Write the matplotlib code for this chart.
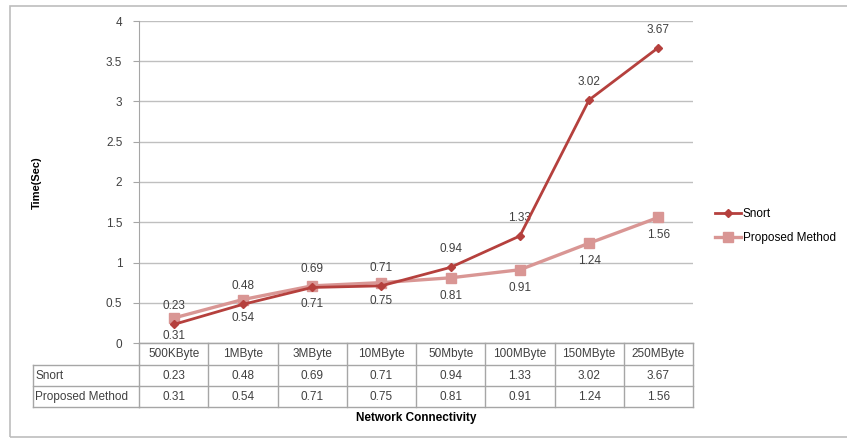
import matplotlib.pyplot as plt
from matplotlib.lines import Line2D
from matplotlib.patches import Rectangle
from matplotlib.transforms import blended_transform_factory

categories = ['500KByte', '1MByte', '3MByte', '10MByte', '50Mbyte', '100MByte', '150MByte', '250MByte']
snort = [0.23, 0.48, 0.69, 0.71, 0.94, 1.33, 3.02, 3.67]
proposed = [0.31, 0.54, 0.71, 0.75, 0.81, 0.91, 1.24, 1.56]
series_names = ['Snort', 'Proposed Method']

W, H = 847, 440
plt.rcParams['font.family'] = ['Liberation Sans', 'DejaVu Sans']
fig = plt.figure(figsize=(W / 100, H / 100), dpi=100)

def fx(px):
    return px / W

def fy(py):
    return 1 - py / H

# outer chart frame
fig.add_artist(Rectangle((fx(10), fy(437)), fx(860), fy(6) - fy(437), transform=fig.transFigure,
                         fill=False, ec='#BDBDBD', lw=1.2))

ax = fig.add_axes([fx(139), fy(343), fx(693 - 139), fy(21) - fy(343)])
c_snort = '#B5403D'
c_prop = '#D99694'
txt_c = '#404040'
fs = 8.5
x = list(range(len(categories)))
ax.plot(x, proposed, color=c_prop, lw=2.4, marker='s', ms=6.5, zorder=3)
ax.plot(x, snort, color=c_snort, lw=2.0, marker='D', ms=4.5, zorder=4)

for i in x:
    ax.annotate(f'{snort[i]:.2f}', (i, snort[i]), xytext=(0, 13), textcoords='offset points',
                ha='center', va='center', fontsize=8.5, color=txt_c)
    ax.annotate(f'{proposed[i]:.2f}', (i, proposed[i]), xytext=(0, -13), textcoords='offset points',
                ha='center', va='center', fontsize=8.5, color=txt_c)

ax.set_xlim(-0.5, len(categories) - 0.5)
ax.set_ylim(0, 4)
ax.set_yticks([0, 0.5, 1, 1.5, 2, 2.5, 3, 3.5, 4])
ax.set_yticklabels(['0', '0.5', '1', '1.5', '2', '2.5', '3', '3.5', '4'])
ax.set_xticks([])
ax.grid(axis='y', color='#BFBFBF', lw=1.0)
ax.set_axisbelow(True)
for s in ['top', 'right']:
    ax.spines[s].set_visible(False)
for s in ['left', 'bottom']:
    ax.spines[s].set_color('#A6A6A6')
ax.tick_params(axis='y', length=4, color='#A6A6A6', labelsize=fs, labelcolor=txt_c, pad=8)
fig.text(fx(37), fy(183), 'Time(Sec)', rotation=90, ha='center', va='center', fontsize=8, fontweight='bold')

# data table below the axis
tr = blended_transform_factory(ax.transData, fig.transFigure)
grid_c = '#A6A6A6'
rows_y = [343, 365, 386, 407]
n = len(categories)
for py in rows_y:
    fig.add_artist(Line2D([-0.5, n - 0.5], [fy(py), fy(py)], transform=tr, color=grid_c, lw=1.0))
for py in rows_y[1:]:
    fig.add_artist(Line2D([fx(33), fx(139)], [fy(py), fy(py)], transform=fig.transFigure, color=grid_c, lw=1.0))
for j in range(n + 1):
    fig.add_artist(Line2D([j - 0.5, j - 0.5], [fy(343), fy(407)], transform=tr, color=grid_c, lw=1.0))
fig.add_artist(Line2D([fx(33), fx(33)], [fy(365), fy(407)], transform=fig.transFigure, color=grid_c, lw=1.0))

for j, cat in enumerate(categories):
    fig.text(j, fy(354), cat, transform=tr, ha='center', va='center', fontsize=fs, color=txt_c)
    fig.text(j, fy(375.5), f'{snort[j]:.2f}', transform=tr, ha='center', va='center', fontsize=fs, color=txt_c)
    fig.text(j, fy(396.5), f'{proposed[j]:.2f}', transform=tr, ha='center', va='center', fontsize=fs, color=txt_c)
fig.text(fx(35), fy(375.5), series_names[0], ha='left', va='center', fontsize=fs, color=txt_c)
fig.text(fx(35), fy(396.5), series_names[1], ha='left', va='center', fontsize=fs, color=txt_c)

fig.text(fx(416), fy(418), 'Network Connectivity', ha='center', va='center', fontsize=8.5, fontweight='bold')

# legend
handles = [Line2D([], [], color=c_snort, lw=2.0, marker='D', ms=4.5),
           Line2D([], [], color=c_prop, lw=2.4, marker='s', ms=6.5)]
fig.legend(handles, series_names, loc='center left', bbox_to_anchor=(fx(704), fy(226)),
           frameon=False, fontsize=fs, handlelength=2.2, handletextpad=0.2, labelspacing=1.05)

fig.savefig('out.png', dpi=100)
